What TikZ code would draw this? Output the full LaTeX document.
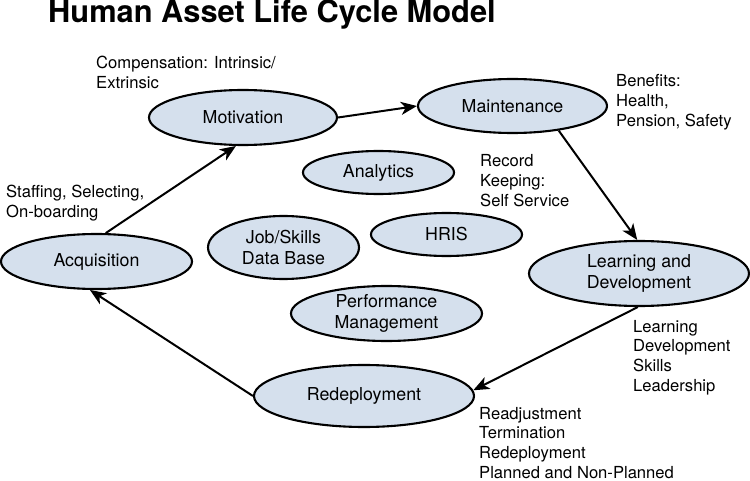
\documentclass[tikz,border=0pt]{standalone}
\usepackage{fontspec}
\setmainfont{TeX Gyre Heros}
\usetikzlibrary{shapes.geometric,arrows.meta}
\definecolor{ellfill}{RGB}{213,224,237}
\begin{document}
\begin{tikzpicture}[x=1pt,y=-1pt,
  cyc/.style={ellipse, draw=black, line width=2.1pt, fill=ellfill, inner sep=0pt, align=center,
    font=\fontsize{17.8}{21.5}\selectfont},
  note/.style={anchor=base west, inner sep=0pt, font=\fontsize{16.6}{19.7}\selectfont},
  flow/.style={line width=2pt, -{Stealth[length=16pt,width=13pt,inset=4.5pt]}}]
\useasboundingbox (0,0) rectangle (750,481);
\node[anchor=base west, inner sep=0pt, font=\fontsize{30.8}{36}\selectfont\bfseries] (title) at (48,23) {Human Asset Life Cycle Model};

\node[cyc, minimum width=188pt, minimum height=55pt] (mot) at (243,117.5) {Motivation};
\node[cyc, minimum width=189pt, minimum height=54pt] (maint) at (512.5,106) {Maintenance};
\node[cyc, minimum width=151pt, minimum height=43pt] (anal) at (378.5,172.5) {Analytics};
\node[cyc, minimum width=151pt, minimum height=43pt] (hris) at (446.5,234.5) {HRIS};
\node[cyc, minimum width=151pt, minimum height=63pt] (job) at (283.5,247.5) {Job/Skills\\Data Base};
\node[cyc, minimum width=191pt, minimum height=55pt] (perf) at (386.5,313.5) {Performance\\Management};
\node[cyc, minimum width=191pt, minimum height=55pt] (acq) at (96.5,261.5) {Acquisition};
\node[cyc, minimum width=220pt, minimum height=65pt] (learn) at (639,273.5) {Learning and\\Development};
\node[cyc, minimum width=220pt, minimum height=62pt] (redep) at (364,396) {Redeployment};

\node[note] (comp) at (96,69) {\begin{tabular}[t]{@{}l@{}}Compensation: Intrinsic/\\Extrinsic\end{tabular}};
\node[note] (bene) at (616,87) {\begin{tabular}[t]{@{}l@{}}Benefits:\\Health,\\Pension, Safety\end{tabular}};
\node[note] (rec) at (480,167) {\begin{tabular}[t]{@{}l@{}}Record\\Keeping:\\Self Service\end{tabular}};
\node[note] (staff) at (6,198) {\begin{tabular}[t]{@{}l@{}}Staffing, Selecting,\\On-boarding\end{tabular}};
\node[note] (ldlist) at (633,332) {\begin{tabular}[t]{@{}l@{}}Learning\\Development\\Skills\\Leadership\end{tabular}};
\node[note] (readj) at (479,419) {\begin{tabular}[t]{@{}l@{}}Readjustment\\Termination\\Redeployment\\Planned and Non-Planned\end{tabular}};

\draw[flow] (acq.72) -- (mot.256);
\draw[flow] (mot.east) -- (maint.west);
\draw[flow] (maint.-28) -- (learn.93);
\draw[flow] (learn.268) -- (redep.3);
\draw[flow] (redep.west) -- (acq.257);
\end{tikzpicture}
\end{document}
